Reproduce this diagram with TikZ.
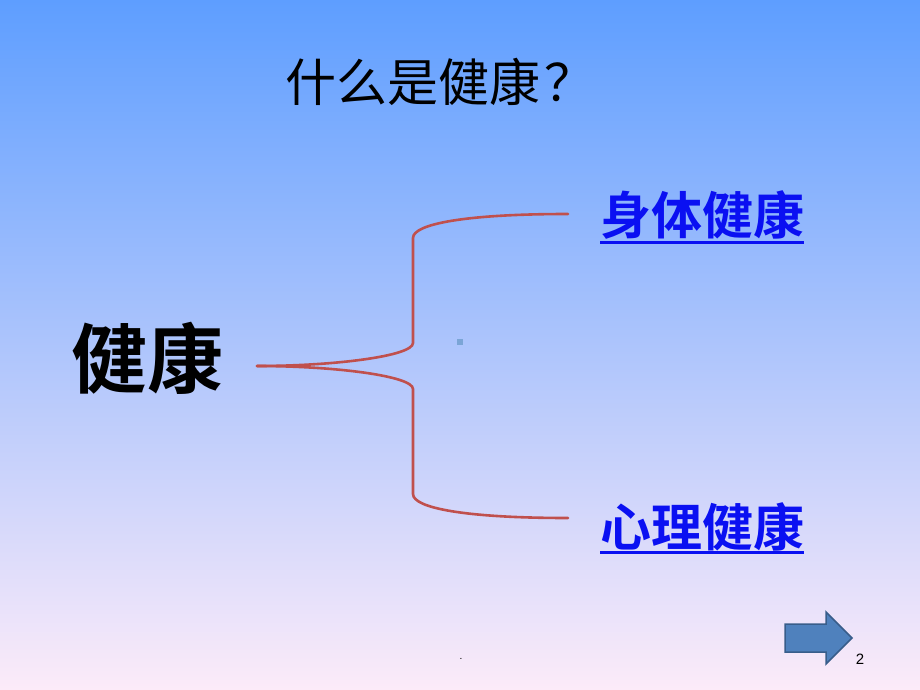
\documentclass[tikz,border=0pt]{standalone}
\usepackage{fontspec}
\newfontfamily\cjk{Noto Sans CJK SC}
\newfontfamily\cjkb{Noto Sans CJK SC Bold}
\setsansfont{Liberation Sans}
\definecolor{topc}{HTML}{5E9EFF}
\definecolor{midc}{HTML}{98C4F7}
\definecolor{botc}{HTML}{FCEBF9}
\definecolor{bracered}{HTML}{C0504D}
\definecolor{linkblue}{HTML}{0A10F2}
\definecolor{arrowfill}{HTML}{4F81BD}
\definecolor{arrowdraw}{HTML}{385D8A}
\tikzset{
  brace/.style={draw=bracered, line width=2.6pt, line cap=round},
  linktext/.style={font=\cjkb\fontsize{51}{53}\selectfont, text=linkblue, inner sep=0pt},
  uline/.style={draw=linkblue, line width=3pt},
}
\begin{document}
\begin{tikzpicture}[x=1pt,y=-1pt]
\useasboundingbox (0,0) rectangle (920,690);
\shade[top color=topc, middle color=midc, bottom color=botc] (0,0) rectangle (920,690);
% title
\node[font=\cjk\fontsize{51}{53}\selectfont, inner sep=0pt, anchor=west] (title) at (285,82) {什么是健康\kern4pt ？};
% main word
\node[font=\cjkb\fontsize{76}{78}\selectfont, inner sep=0pt] (health) at (147,358) {健康};
% branch words
\node[linktext] (body) at (702,215) {身体健康};
\node[linktext] (mind) at (702,527) {心理健康};
\draw[uline] (600,242) -- (804,242);
\draw[uline] (600,552) -- (804,552);
% brace coordinates
\coordinate (root) at (257,366);
\coordinate (topend) at (568,214);
\coordinate (botend) at (568,518);
\draw[brace] (root) .. controls (335,366) and (413,356) .. (413,343)
  -- (413,238) .. controls (413,224) and (465,214) .. (topend);
\draw[brace] (root) .. controls (335,366) and (413,376) .. (413,389)
  -- (413,494) .. controls (413,508) and (465,518) .. (botend);
% small grey square
\node[fill=arrowdraw!30!midc, minimum size=6pt, inner sep=0pt] (sq) at (460,342) {};
% dot
\node[font=\sffamily\fontsize{10}{12}\selectfont, inner sep=0pt] (dot) at (461,659) {.};
% arrow
\draw[fill=arrowfill, draw=arrowdraw, line width=1.5pt, line join=miter]
  (785,624) -- (826,624) -- (826,612) -- (852,638) -- (826,664) -- (826,652) -- (785,652) -- cycle;
\node[font=\sffamily\fontsize{15}{17}\selectfont, inner sep=0pt] (pnum) at (860,659) {2};
\end{tikzpicture}
\end{document}
